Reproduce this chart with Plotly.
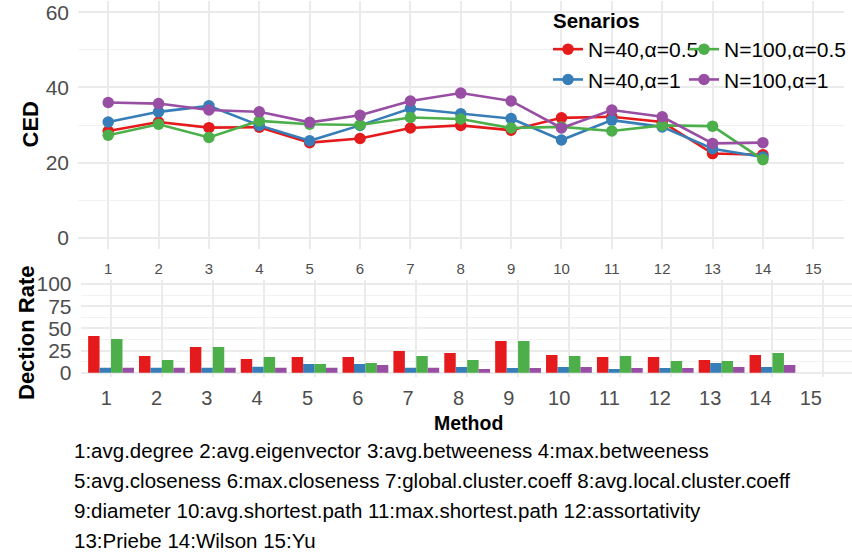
import plotly.graph_objects as go

# ---- data ----
methods = list(range(1, 16))
series_names = ["N=40,\u03b1=0.5", "N=40,\u03b1=1", "N=100,\u03b1=0.5", "N=100,\u03b1=1"]
series_colors = ["#E41A1C", "#377EB8", "#4DAF4A", "#984EA3"]
series_legend = ["legend", "legend", "legend2", "legend2"]

ced_n40_a05 = [28.4, 30.8, 29.3, 29.4, 25.3, 26.4, 29.2, 29.9, 28.6, 31.9, 32.2, 30.8, 22.4, 22.1, None]
ced_n40_a1 = [30.8, 33.5, 35.1, 29.9, 25.8, 29.9, 34.4, 33.0, 31.7, 26.0, 31.3, 29.5, 23.7, 21.5, None]
ced_n100_a05 = [27.3, 30.2, 26.7, 31.1, 30.2, 30.0, 32.0, 31.6, 29.2, 29.5, 28.4, 29.9, 29.7, 20.8, None]
ced_n100_a1 = [36.0, 35.7, 34.0, 33.5, 30.7, 32.6, 36.4, 38.5, 36.4, 29.2, 34.0, 32.2, 25.1, 25.3, None]

dr_n40_a05 = [41.4, 18.8, 28.9, 15.4, 17.7, 17.7, 24.4, 22.2, 35.7, 19.9, 17.7, 17.7, 14.3, 19.9, None]
dr_n40_a1 = [5.6, 5.6, 5.6, 6.8, 9.8, 9.8, 5.6, 6.4, 5.3, 6.4, 4.1, 5.3, 10.9, 6.4, None]
dr_n100_a05 = [38.0, 14.3, 28.9, 17.7, 9.8, 10.9, 18.8, 14.3, 35.7, 18.8, 18.8, 13.2, 13.2, 22.2, None]
dr_n100_a1 = [5.6, 5.6, 5.6, 5.6, 5.6, 8.6, 5.6, 4.1, 5.3, 6.4, 5.3, 5.3, 6.4, 8.6, None]

ced_series = [ced_n40_a05, ced_n40_a1, ced_n100_a05, ced_n100_a1]
dr_series = [dr_n40_a05, dr_n40_a1, dr_n100_a05, dr_n100_a1]

ced_ticks = [0, 20, 40, 60]
dr_ticks = [0, 25, 50, 75, 100]

legend_title = "Senarios"
ced_title = "CED"
dr_title = "Dection Rate"
x_title = "Method"
footnote_lines = [
    "1:avg.degree 2:avg.eigenvector 3:avg.betweeness 4:max.betweeness",
    "5:avg.closeness 6:max.closeness 7:global.cluster.coeff 8:avg.local.cluster.coeff",
    "9:diameter 10:avg.shortest.path 11:max.shortest.path 12:assortativity",
    "13:Priebe 14:Wilson 15:Yu",
]

# ---- figure ----
W, H = 852, 557
FONT = "Liberation Sans, Arial, Helvetica, sans-serif"
GRID = "#EBEBEB"
MINOR = "#F2F2F2"
TICKC = "#4D4D4D"

def px_x(p):
    return p / W

def px_y(p):
    return 1 - p / H

fig = go.Figure()

for name, col, leg, vals in zip(series_names, series_colors, series_legend, ced_series):
    fig.add_trace(go.Scatter(
        x=methods, y=vals, name=name, mode="lines+markers",
        line=dict(color=col, width=2.6), marker=dict(color=col, size=11.5),
        legend=leg, xaxis="x", yaxis="y",
    ))

for i, (name, col, vals) in enumerate(zip(series_names, series_colors, dr_series)):
    fig.add_trace(go.Bar(
        x=methods, y=vals, name=name, marker=dict(color=col, line=dict(width=0)),
        showlegend=False, offsetgroup=str(i), xaxis="x2", yaxis="y2",
    ))

# invisible trace that hosts the tick-label axis of the lower panel
fig.add_trace(go.Scatter(x=methods, y=[None] * len(methods), mode="markers",
                         showlegend=False, hoverinfo="skip", xaxis="x3", yaxis="y3"))

legend_common = dict(
    orientation="v", xanchor="left", yanchor="top",
    bgcolor="rgba(0,0,0,0)", borderwidth=0, itemwidth=30,
    font=dict(size=21, family=FONT, color="black"),
)

fig.update_layout(
    template="none",
    width=W, height=H,
    margin=dict(l=0, r=0, t=0, b=0, autoexpand=False),
    paper_bgcolor="white", plot_bgcolor="rgba(0,0,0,0)",
    font=dict(family=FONT, color="black"),
    barmode="group", bargap=0.1, bargroupgap=0,
    showlegend=True,
    legend=dict(x=px_x(548), y=px_y(29), **legend_common),
    legend2=dict(x=px_x(684), y=px_y(29), **legend_common),
    xaxis=dict(
        domain=[px_x(78), px_x(843.5)], range=[0.4, 15.6], anchor="y", automargin=False,
        tickmode="array", tickvals=methods, ticktext=[str(m) for m in methods],
        showgrid=True, gridcolor=GRID, gridwidth=1.5, zeroline=False, showline=False, ticks="",
        tickfont=dict(size=15, color=TICKC), ticklabelstandoff=9,
    ),
    yaxis=dict(
        domain=[px_y(249), px_y(1)], range=[-3, 63], anchor="x", automargin=False,
        tickmode="array", tickvals=ced_ticks,
        showgrid=True, gridcolor=GRID, gridwidth=1.5, zeroline=False, showline=False, ticks="",
        minor=dict(tickvals=[10, 30, 50], showgrid=True, gridcolor=MINOR, gridwidth=1),
        tickfont=dict(size=21, color=TICKC), ticklabelstandoff=8,
    ),
    xaxis2=dict(
        domain=[px_x(80.5), 1.0], range=[0.4, 0.4 + (W - 80.5) / 50.88], anchor="y2", automargin=False,
        tickmode="array", tickvals=methods, showticklabels=False,
        showgrid=True, gridcolor=GRID, gridwidth=1.5, zeroline=False, showline=False, ticks="",
    ),
    yaxis2=dict(
        domain=[px_y(377.1), px_y(279.6)], range=[-5, 105], anchor="x2", automargin=False,
        tickmode="array", tickvals=dr_ticks,
        showgrid=True, gridcolor=GRID, gridwidth=1.5, zeroline=False, showline=False, ticks="",
        minor=dict(tickvals=[12.5, 37.5, 62.5, 87.5], showgrid=True, gridcolor=MINOR, gridwidth=1),
        tickfont=dict(size=21, color=TICKC), ticklabelstandoff=8,
    ),
    xaxis3=dict(
        domain=[px_x(76), px_x(841)], range=[0.4, 15.6], anchor="y3", automargin=False,
        tickmode="array", tickvals=methods, ticktext=[str(m) for m in methods],
        showgrid=False, zeroline=False, showline=False, ticks="",
        tickfont=dict(size=20, color=TICKC), ticklabelstandoff=7,
    ),
    yaxis3=dict(
        domain=[px_y(377.1), px_y(279.6)], range=[-5, 105], anchor="x3", automargin=False,
        showgrid=False, zeroline=False, showline=False, showticklabels=False, ticks="",
    ),
    shapes=[dict(type="rect", xref="paper", yref="paper", layer="between",
                 x0=px_x(548), x1=px_x(846), y0=px_y(89), y1=px_y(9),
                 fillcolor="white", line=dict(width=0))],
)

annotations = [
    dict(text="<b>" + legend_title + "</b>", x=px_x(551), y=px_y(20), xref="paper", yref="paper",
         showarrow=False, xanchor="left", yanchor="middle",
         font=dict(size=20.5, family=FONT, color="black")),
    dict(text="<b>" + ced_title + "</b>", x=px_x(30), y=px_y(124.5), xref="paper", yref="paper",
         textangle=-90, showarrow=False, xanchor="center", yanchor="middle",
         font=dict(size=22, family=FONT, color="black")),
    dict(text="<b>" + dr_title + "</b>", x=px_x(26), y=px_y(333), xref="paper", yref="paper",
         textangle=-90, showarrow=False, xanchor="center", yanchor="middle",
         font=dict(size=22, family=FONT, color="black")),
    dict(text="<b>" + x_title + "</b>", x=px_x(468), y=px_y(423), xref="paper", yref="paper",
         showarrow=False, xanchor="center", yanchor="middle",
         font=dict(size=19.5, family=FONT, color="black")),
]
for i, line in enumerate(footnote_lines):
    annotations.append(dict(
        text=line, x=px_x(72), y=px_y(450 + 30 * i), xref="paper", yref="paper",
        showarrow=False, xanchor="left", yanchor="middle",
        font=dict(size=20.5, family=FONT, color="black"),
    ))
fig.update_layout(annotations=annotations)

fig.write_html("out.html", config={"displayModeBar": False},
               post_script="document.body.style.margin='0';document.body.style.padding='0';")
